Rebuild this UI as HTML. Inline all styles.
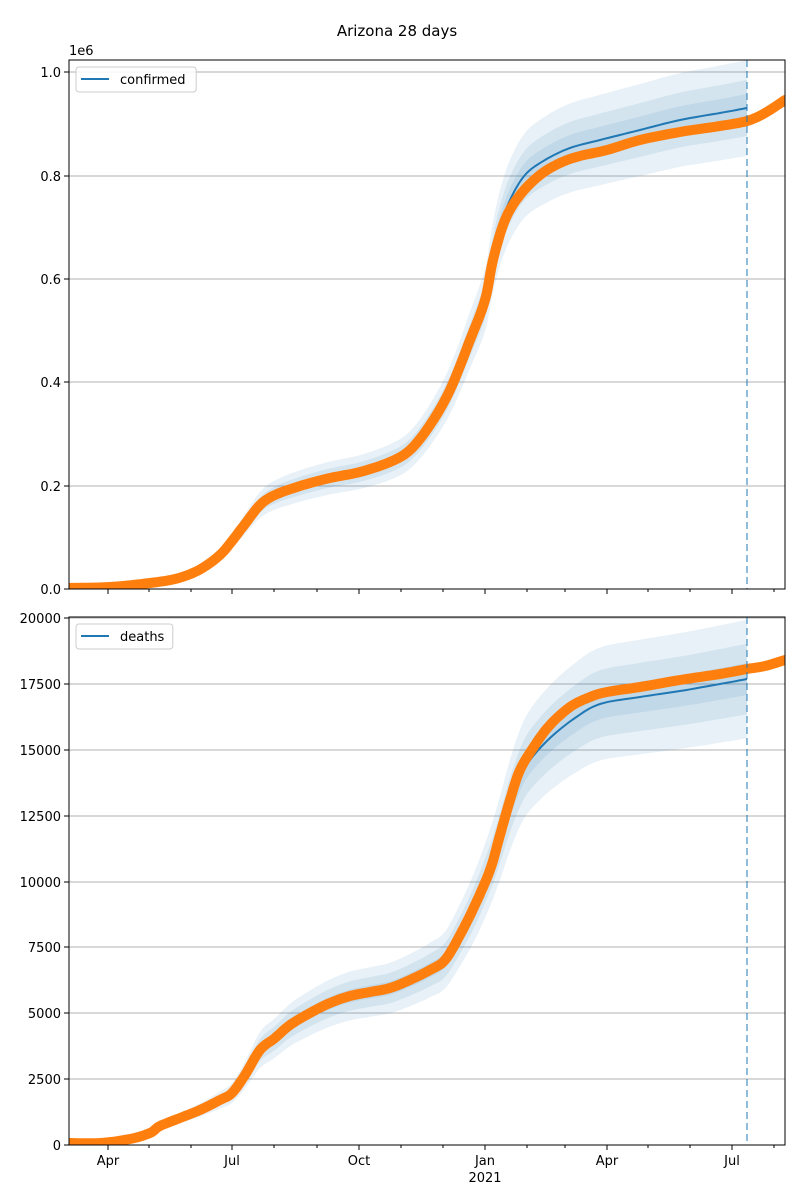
<!DOCTYPE html>
<html><head><meta charset="utf-8"><style>
html,body{margin:0;padding:0;background:#fff;}
svg{display:block;font-family:"DejaVu Sans","Liberation Sans",sans-serif;}
</style></head><body>
<svg id="s" width="800" height="1200" viewBox="0 0 800 1200" xmlns="http://www.w3.org/2000/svg">
<defs>
<clipPath id="c1"><rect x="69" y="60" width="716" height="529"/></clipPath>
<clipPath id="c2"><rect x="69" y="617" width="716" height="528"/></clipPath>
</defs>
<rect width="800" height="1200" fill="#fff"/>
<text x="397" y="36" font-size="15" text-anchor="middle">Arizona 28 days</text>
<g id="g1"></g>
<g id="g2"></g>
</svg>
<script>
const NS="http://www.w3.org/2000/svg";
function el(p,t,a,txt){const e=document.createElementNS(NS,t);for(const k in a)e.setAttribute(k,a[k]);if(txt!==undefined)e.textContent=txt;p.appendChild(e);return e;}
function smooth(a){let out=[];for(let i=0;i<a.length-1;i++){const p0=a[Math.max(0,i-1)],p1=a[i],p2=a[i+1],p3=a[Math.min(a.length-1,i+2)];
 for(let k=0;k<8;k++){const t=k/8,t2=t*t,t3=t2*t;
  const f=(a0,a1,a2,a3)=>0.5*((2*a1)+(-a0+a2)*t+(2*a0-5*a1+4*a2-a3)*t2+(-a0+3*a1-3*a2+a3)*t3);
  out.push([f(p0[0],p1[0],p2[0],p3[0]),f(p0[1],p1[1],p2[1],p3[1])]);}}
 out.push(a[a.length-1]);return out;}
function pts(a){return a.map(p=>p[0].toFixed(1)+","+p[1].toFixed(1)).join(" ");}
const months=[108,149,191,232,274,317,359,401,443,485,527,565,607,648,690,732,774];
const major={108:"Apr",232:"Jul",359:"Oct",485:"Jan",607:"Apr",732:"Jul"};
function panel(g,top,bot,y0px,ticks,clip,orange,blue,fr,legend,showX){
  const G=document.getElementById(g);
  ticks.forEach(t=>{el(G,"line",{x1:69,x2:785,y1:t[0],y2:t[0],stroke:"#b0b0b0","stroke-width":1});
    el(G,"line",{x1:64,x2:69,y1:t[0],y2:t[0],stroke:"#000"});
    el(G,"text",{x:61,y:t[0]+5,"font-size":13,"text-anchor":"end"},t[1]);});
  const C=el(G,"g",{"clip-path":"url(#"+clip+")"});
  blue=smooth(blue);orange=smooth(orange);
  fr.forEach(f=>{
    const hw=p=>{const v=y0px-p[1];return f[0]*v+f[1]*Math.min(v,100)/100;};
    const up=blue.map(p=>[p[0],p[1]-hw(p)]);
    const lo=blue.map(p=>[p[0],p[1]+hw(p)]).reverse();
    el(C,"polygon",{points:pts(up.concat(lo)),fill:"#1f77b4","fill-opacity":0.1});
  });
  el(C,"polyline",{points:pts(blue),fill:"none",stroke:"#1f77b4","stroke-width":2});
  el(C,"polyline",{points:pts(orange),fill:"none",stroke:"#ff7f0e","stroke-width":10,"stroke-linejoin":"round","stroke-linecap":"round"});
  el(C,"line",{x1:747,x2:747,y1:top,y2:bot,stroke:"#1f77b4","stroke-opacity":0.55,"stroke-width":1.8,"stroke-dasharray":"7,4"});
  el(G,"rect",{x:69,y:top,width:716,height:bot-top,fill:"none",stroke:"#000","stroke-width":1});
  months.forEach(m=>{const M=major[m]!==undefined;el(G,"line",{x1:m,x2:m,y1:bot,y2:bot+(M?5:3),stroke:"#000"});
    if(M&&showX)el(G,"text",{x:m,y:bot+20,"font-size":13,"text-anchor":"middle"},major[m]);});
  const lw=legend.length*7.8+50;
  el(G,"rect",{x:76,y:top+7,width:lw,height:25,rx:3,fill:"#fff","fill-opacity":0.85,stroke:"#ccc"});
  el(G,"line",{x1:81,x2:109,y1:top+19,y2:top+19,stroke:"#1f77b4","stroke-width":2});
  el(G,"text",{x:120,y:top+24,"font-size":13},legend);
}
const e1=[[69,588],[110,587],[150,583],[175,579],[195,572],[210,563],[222,553],[232,541],[245,524],[260,505],[275,495],[300,486],[330,478],[360,472],[390,462],[410,450],[430,425],[450,390],[470,340],[485,300]];
const o1=e1.concat([[493,260],[505,220],[520,195],[540,175],[560,163],[580,156],[607,150],[640,140],[680,132],[720,126],[747,121],[765,113],[785,100]]);
const b1=e1.concat([[492,262],[500,228],[510,200],[525,175],[545,160],[570,148],[600,140],[640,130],[680,120],[720,113],[747,108]]);
panel("g1",60,589,589,[[589,"0.0"],[486,"0.2"],[382,"0.4"],[279,"0.6"],[176,"0.8"],[72,"1.0"]],"c1",o1,b1,[[0.085,7],[0.05,4],[0.025,2]],"confirmed",false);
el(document.getElementById("g1"),"text",{x:69,y:55,"font-size":13},"1e6");
const e2=[[69,1143],[100,1143],[130,1139],[150,1133],[160,1126],[180,1118],[200,1110],[220,1100],[232,1093],[245,1075],[260,1050],[275,1038],[290,1025],[310,1013],[330,1003],[350,996],[370,992],[390,988],[410,980],[430,970],[445,960],[460,935],[475,905]];
const o2=e2.concat([[490,870],[500,835],[510,800],[520,770],[535,745],[550,725],[570,707],[590,697],[607,692],[640,687],[680,680],[720,674],[747,669],[765,666],[785,660]]);
const b2=e2.concat([[490,868],[500,838],[510,805],[520,778],[530,760],[550,738],[575,718],[600,704],[640,697],[680,691],[720,684],[747,679]]);
panel("g2",617,1145,1145,[[1145,"0"],[1079,"2500"],[1013,"5000"],[947,"7500"],[882,"10000"],[816,"12500"],[750,"15000"],[684,"17500"],[618,"20000"]],"c2",o2,b2,[[0.11,8],[0.065,5],[0.03,2]],"deaths",true);
el(document.getElementById("g2"),"text",{x:485,y:1182,"font-size":13,"text-anchor":"middle"},"2021");
</script>
</body></html>
